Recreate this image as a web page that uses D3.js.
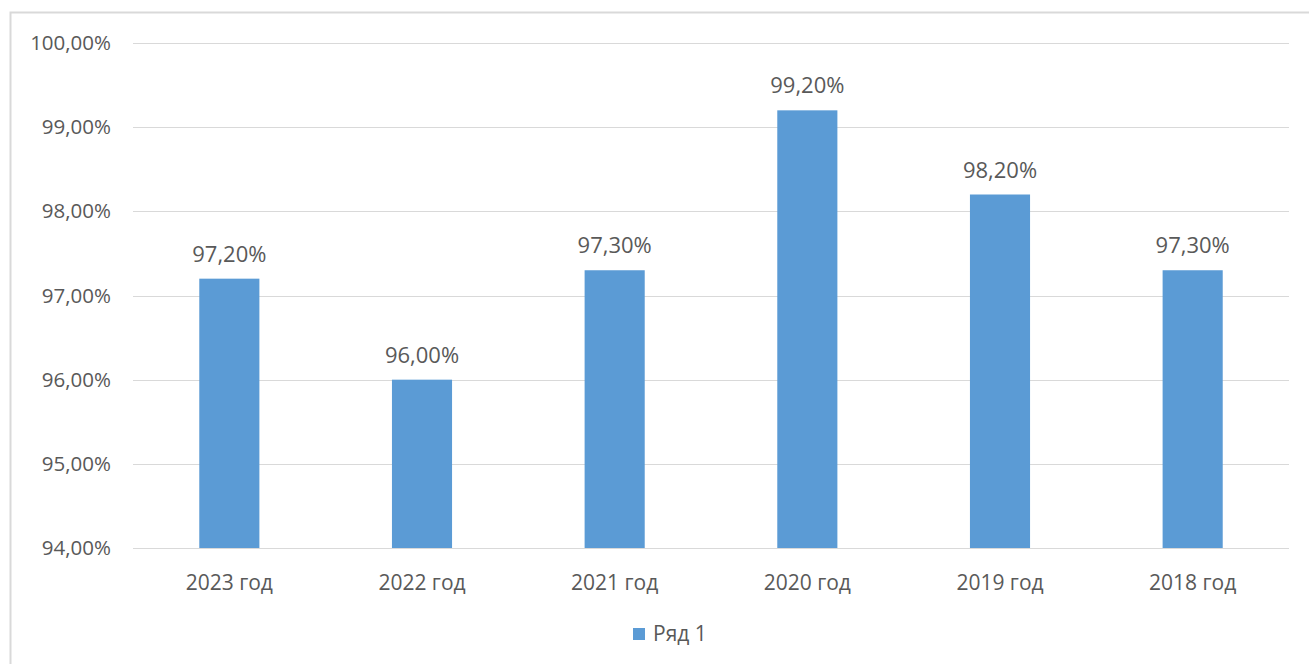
<!DOCTYPE html>
<html>
<head>
<meta charset="utf-8">
<script src="https://cdn.jsdelivr.net/npm/d3@7"></script>
<style>
    body { margin: 0; background: #fff; }
    svg { display: block; font-family: "Open Sans", "Noto Sans", sans-serif; }
</style>
</head>
<body>
<script>
;(() => {
    var width = 1309, height = 664; // svg dimensions

    // data
    var years = ['2023 год', '2022 год', '2021 год', '2020 год', '2019 год', '2018 год'],
        values = [97.2, 96.0, 97.3, 99.2, 98.2, 97.3],
        ticks = [94, 95, 96, 97, 98, 99, 100],
        seriesName = 'Ряд 1';

    var color = '#5b9bd5',
        gridColor = '#d9d9d9',
        textColor = '#595959';

    var fmt = v => v.toFixed(2).replace('.', ',') + '%';

    var svg = d3.select('body')
        .append('svg')
        .attr('width', width)
        .attr('height', height);

    // chart border
    svg.append('rect')
        .attr('x', 10.5)
        .attr('y', 12.5)
        .attr('width', width + 10)
        .attr('height', height + 10)
        .attr('fill', 'none')
        .attr('stroke', gridColor)
        .attr('stroke-width', 2);

    var x = d3.scaleBand().domain(years).range([133, 1289]).padding(0),
        y = d3.scaleLinear().domain([94, 100]).range([548, 43]);

    var barW = x.bandwidth() * 0.312;

    // gridlines
    svg.selectAll('line.grid')
        .data(ticks)
        .enter()
        .append('line')
        .classed('grid', true)
        .attr('x1', 133)
        .attr('x2', 1289)
        .attr('y1', d => Math.round(y(d)) + 0.5)
        .attr('y2', d => Math.round(y(d)) + 0.5)
        .attr('stroke', gridColor)
        .attr('stroke-width', 1);

    // y tick labels
    svg.selectAll('text.ytick')
        .data(ticks)
        .enter()
        .append('text')
        .classed('ytick', true)
        .attr('x', 111)
        .attr('y', d => y(d) + 7)
        .attr('text-anchor', 'end')
        .attr('font-size', 20.5)
        .attr('fill', textColor)
        .text(d => fmt(d));

    // bars
    svg.selectAll('rect.bar')
        .data(values)
        .enter()
        .append('rect')
        .classed('bar', true)
        .attr('x', (d, i) => x(years[i]) + (x.bandwidth() - barW) / 2)
        .attr('y', d => y(d))
        .attr('width', barW)
        .attr('height', d => y(94) - y(d))
        .attr('fill', color);

    // value labels
    svg.selectAll('text.val')
        .data(values)
        .enter()
        .append('text')
        .classed('val', true)
        .attr('x', (d, i) => x(years[i]) + x.bandwidth() / 2)
        .attr('y', d => y(d) - 17)
        .attr('text-anchor', 'middle')
        .attr('font-size', 22)
        .attr('fill', textColor)
        .text(d => fmt(d));

    // x labels
    svg.selectAll('text.xtick')
        .data(years)
        .enter()
        .append('text')
        .classed('xtick', true)
        .attr('x', d => x(d) + x.bandwidth() / 2)
        .attr('y', 590)
        .attr('text-anchor', 'middle')
        .attr('font-size', 21)
        .attr('fill', textColor)
        .text(d => d);

    // legend
    var legend = svg.append('g').attr('transform', 'translate(633,628)');
    legend.append('rect')
        .attr('width', 12)
        .attr('height', 12)
        .attr('fill', color);
    legend.append('text')
        .attr('x', 20)
        .attr('y', 13)
        .attr('font-size', 21)
        .attr('fill', textColor)
        .text(seriesName);
})();
</script>
</body>
</html>
